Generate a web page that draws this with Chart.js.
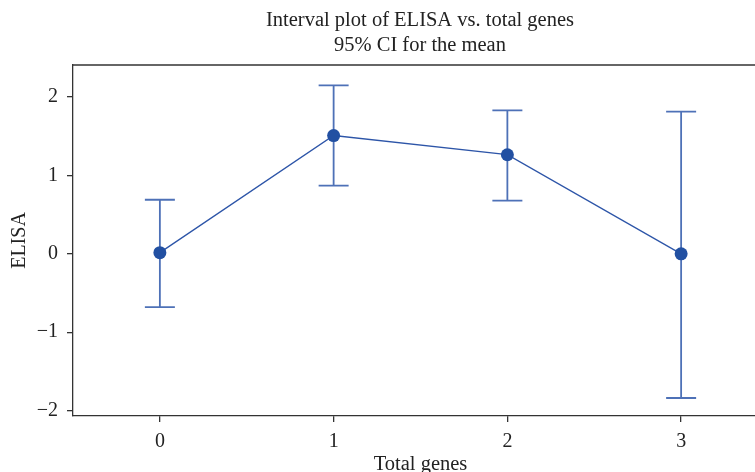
<!DOCTYPE html>
<html><head><meta charset="utf-8">
<script src="https://cdn.jsdelivr.net/npm/chart.js@4"></script>
<style>html,body{margin:0;padding:0;overflow:hidden;background:#fff}#wrap{width:840px;height:472px}</style>
</head><body><div id="wrap"><canvas id="c" width="840" height="472"></canvas></div>
<script>
const categories = [0, 1, 2, 3];
const means = [0.015, 1.51, 1.265, 0.0];
const upper = [0.69, 2.15, 1.83, 1.815];
const lower = [-0.68, 0.87, 0.68, -1.84];
const xTicks = [0, 1, 2, 3];
const yTicks = [-2, -1, 0, 1, 2];
const titleLines = ['Interval plot of ELISA vs. total genes', '95% CI for the mean'];

const FONT = "'Liberation Serif', 'Times New Roman', serif";

const errorBars = {
  id: 'errorBars',
  beforeDatasetsDraw(chart) {
    const {ctx, scales: {x, y}} = chart;
    ctx.save();
    ctx.strokeStyle = '#4e71b7';
    ctx.lineWidth = 1.8;
    for (let i = 0; i < categories.length; i++) {
      const px = x.getPixelForValue(categories[i]);
      const pu = y.getPixelForValue(upper[i]);
      const pl = y.getPixelForValue(lower[i]);
      ctx.beginPath();
      ctx.moveTo(px, pu); ctx.lineTo(px, pl);
      ctx.moveTo(px - 15, pu); ctx.lineTo(px + 15, pu);
      ctx.moveTo(px - 15, pl); ctx.lineTo(px + 15, pl);
      ctx.stroke();
    }
    ctx.restore();
  }
};
const topBorder = {
  id: 'topBorder',
  afterDraw(chart) {
    const {ctx, chartArea: a} = chart;
    ctx.save();
    ctx.strokeStyle = '#333';
    ctx.lineWidth = 1.3;
    ctx.beginPath();
    ctx.moveTo(a.left, a.top); ctx.lineTo(a.right, a.top);
    ctx.stroke();
    ctx.restore();
  }
};

new Chart(document.getElementById('c'), {
  type: 'line',
  data: {
    datasets: [{
      data: categories.map((c, i) => ({x: c, y: means[i]})),
      borderColor: '#2d55a8',
      borderWidth: 1.3,
      pointRadius: 6.5,
      pointBackgroundColor: '#2250a2',
      pointBorderColor: '#2250a2',
      pointBorderWidth: 0,
      tension: 0
    }]
  },
  options: {
    responsive: false,
    animation: false,
    layout: {padding: 0},
    plugins: {
      legend: {display: false},
      tooltip: {enabled: false},
      title: {
        display: true,
        text: titleLines,
        color: '#222',
        font: {family: FONT, size: 20.5, weight: 'normal', lineHeight: 1.22},
        padding: {top: 8, bottom: 7}
      }
    },
    scales: {
      x: {
        type: 'linear',
        min: -0.5, max: 3.5,
        afterBuildTicks: s => { s.ticks = xTicks.map(v => ({value: v})); },
        afterFit: s => { s.height = 56; },
        grid: {drawOnChartArea: false, drawTicks: true, tickLength: 6, color: '#333', lineWidth: 1.3},
        border: {display: true, color: '#333', width: 1.3},
        ticks: {color: '#222', font: {family: FONT, size: 20}, padding: 8, maxRotation: 0},
        title: {display: true, text: 'Total genes', color: '#222', font: {family: FONT, size: 20.5}, padding: {top: 0, bottom: -5}}
      },
      y: {
        type: 'linear',
        min: -2.07, max: 2.41,
        afterBuildTicks: s => { s.ticks = yTicks.map(v => ({value: v})); },
        afterFit: s => { s.width = 73; },
        grid: {drawOnChartArea: false, drawTicks: true, tickLength: 6, color: '#333', lineWidth: 1.3},
        border: {display: true, color: '#333', width: 1.3},
        ticks: {color: '#222', font: {family: FONT, size: 20}, padding: 9,
          callback: v => v < 0 ? '\u2212' + Math.abs(v) : String(v)},
        title: {display: true, text: 'ELISA', color: '#222', font: {family: FONT, size: 20}, padding: {top: 8, bottom: 0}}
      },
      yRight: {
        type: 'linear',
        position: 'right',
        min: -2.07, max: 2.41,
        afterFit: s => { s.width = 72; },
        grid: {display: false},
        border: {display: false},
        ticks: {display: false}
      }
    }
  },
  plugins: [errorBars, topBorder]
});
</script>
</body></html>
